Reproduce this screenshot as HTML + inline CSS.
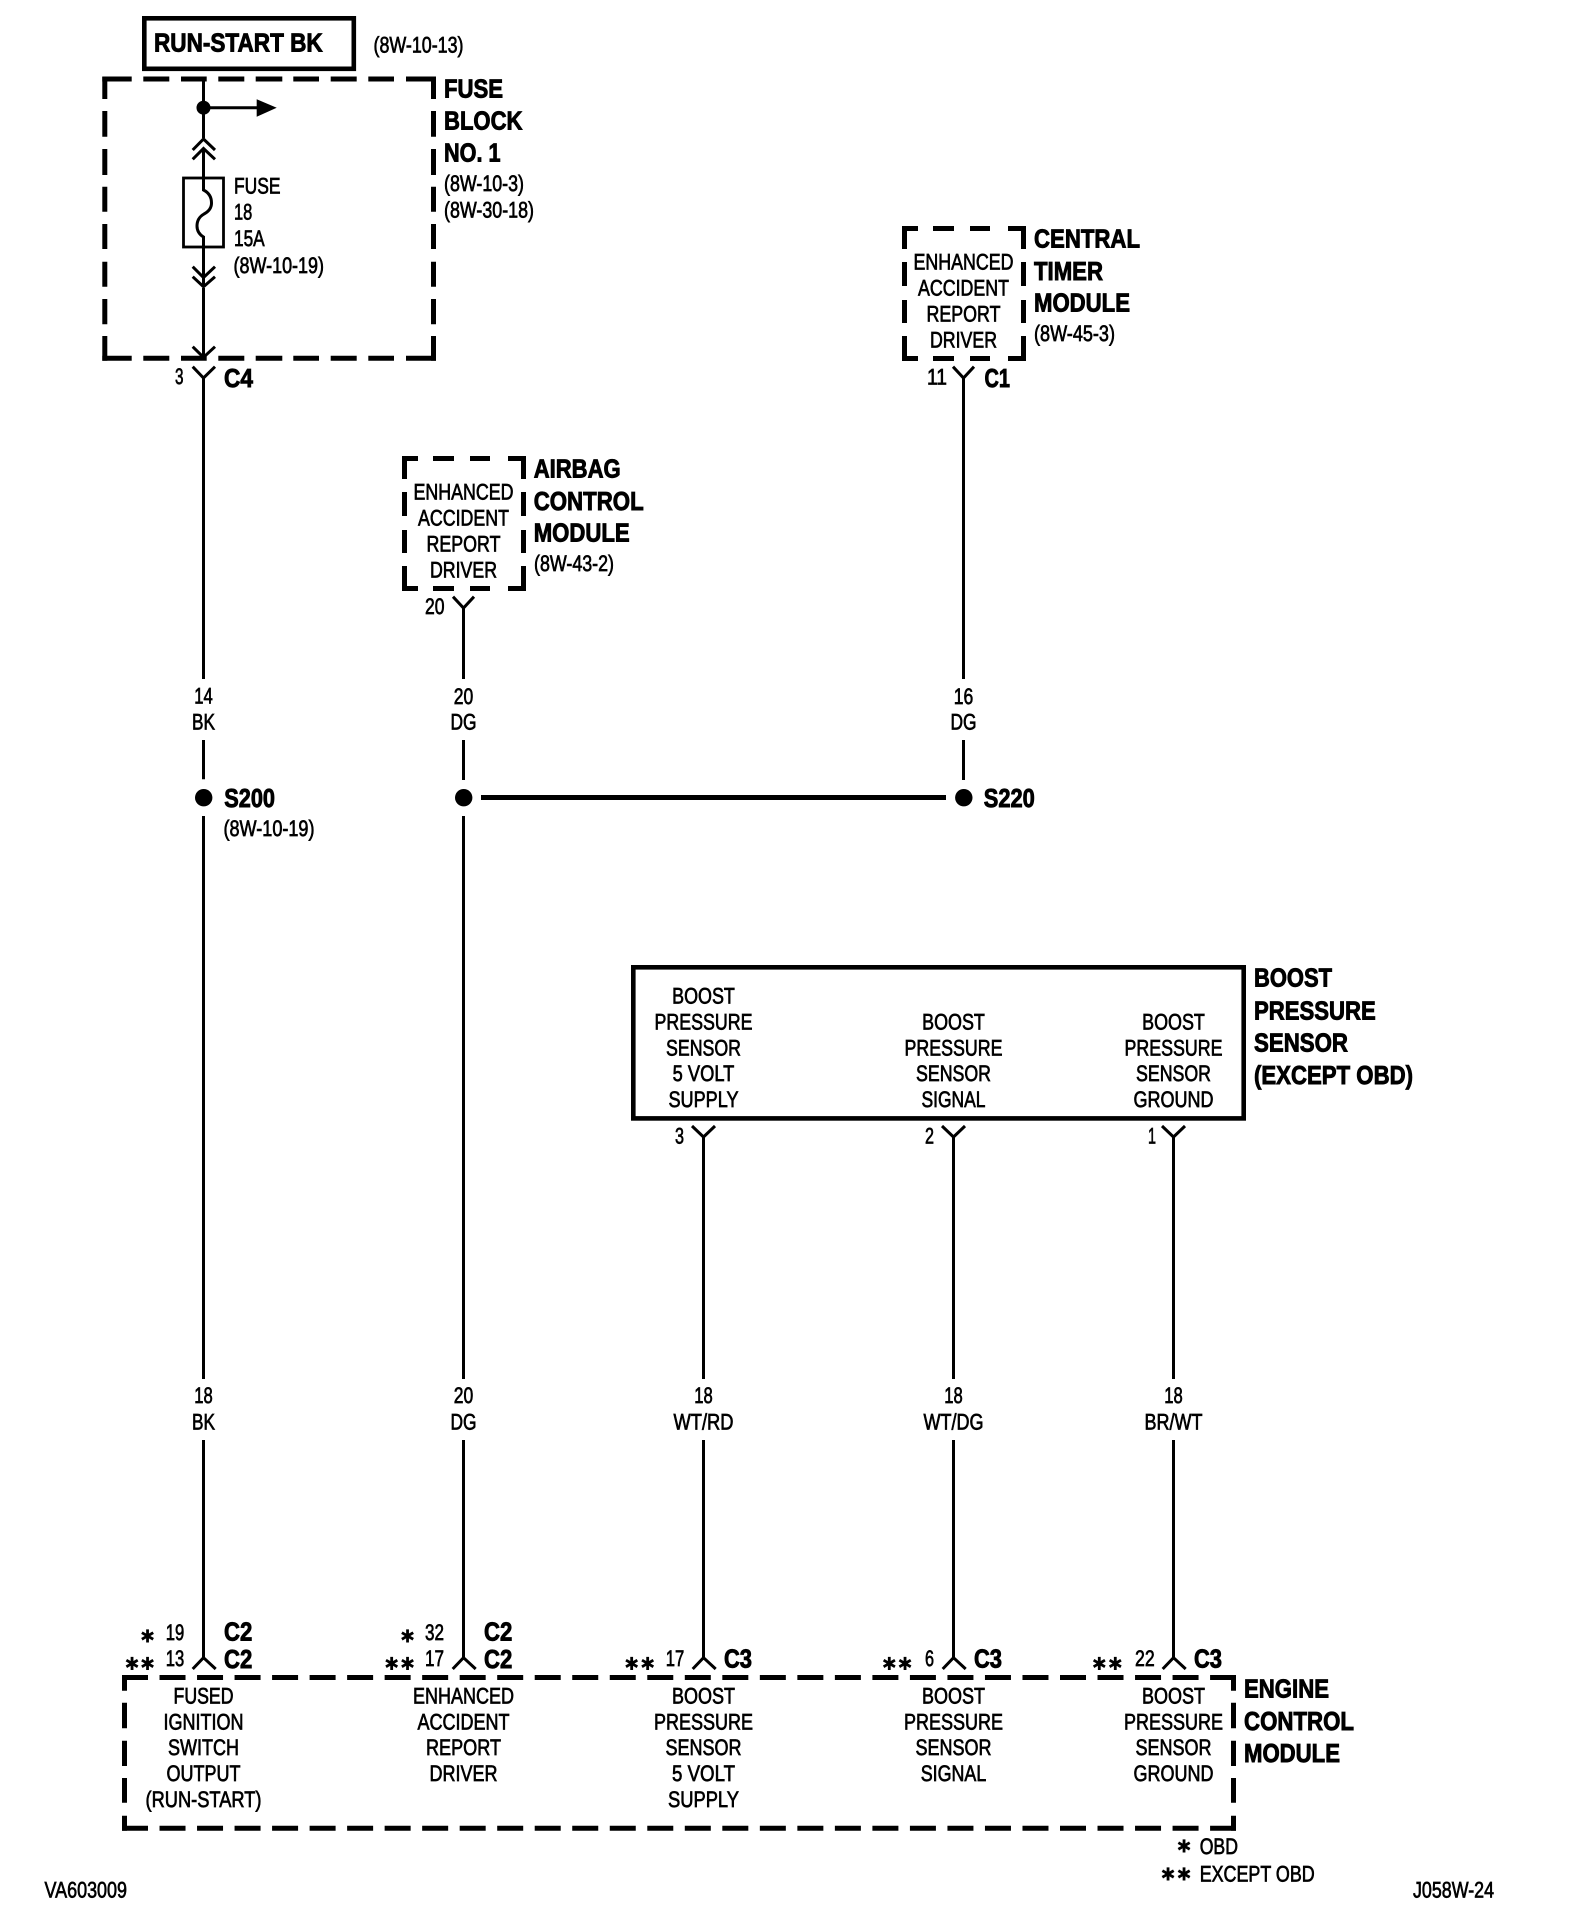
<!DOCTYPE html>
<html><head><meta charset="utf-8"><title>Wiring diagram</title>
<style>
html,body{margin:0;padding:0;background:#fff}
svg{display:block}
text{font-family:"Liberation Sans",sans-serif;fill:#000;text-rendering:geometricPrecision}
.s{font-size:22.5px;stroke:#000;stroke-width:.7}
.b{font-size:26px;font-weight:bold;stroke:#000;stroke-width:.9}
.m{text-anchor:middle}
.a{font-family:"DejaVu Sans",sans-serif;font-size:18px;text-anchor:middle}
.w{fill:none;stroke:#000;stroke-width:3}
.h{fill:none;stroke:#000;stroke-width:5}
</style></head><body>
<svg width="1584" height="1928" viewBox="0 0 1584 1928" xmlns="http://www.w3.org/2000/svg">
<rect width="1584" height="1928" fill="#fff"/>

<!-- Run-start box -->
<rect x="144.3" y="18.3" width="209.5" height="50.5" fill="none" stroke="#000" stroke-width="4.6"/>
<text class="b" x="154" y="51.3" textLength="168.7" lengthAdjust="spacingAndGlyphs">RUN-START BK</text>
<text class="s" x="373.5" y="52.5" textLength="90" lengthAdjust="spacingAndGlyphs">(8W-10-13)</text>

<!-- Fuse block dashed -->
<path class="h" d="M102.3 79H131.7M143.3 79H169.3M181 79H206.7M218.3 79H244.3M255.7 79H282.3M293.3 79H319M330.7 79H356.7M368.3 79H394M406 79H436"/>
<path class="h" d="M102.3 358.3H131.7M143.3 358.3H169.3M181 358.3H206.7M218.3 358.3H244.3M255.7 358.3H282.3M293.3 358.3H319M330.7 358.3H356.7M368.3 358.3H394M406 358.3H436"/>
<path class="h" d="M104.8 76.7V99M104.8 111V136.7M104.8 149V175M104.8 186.7V211.7M104.8 224V249M104.8 261.7V286.7M104.8 299V324.3M104.8 336V360.7"/>
<path class="h" d="M433.5 76.7V99M433.5 111V136.7M433.5 149V175M433.5 186.7V211.7M433.5 224V249M433.5 261.7V286.7M433.5 299V324.3M433.5 336V360.7"/>
<text class="b" x="444" y="97.3" textLength="59" lengthAdjust="spacingAndGlyphs">FUSE</text>
<text class="b" x="444" y="129.7" textLength="78.5" lengthAdjust="spacingAndGlyphs">BLOCK</text>
<text class="b" x="444" y="161.7" textLength="56.5" lengthAdjust="spacingAndGlyphs">NO. 1</text>
<text class="s" x="444" y="191" textLength="80" lengthAdjust="spacingAndGlyphs">(8W-10-3)</text>
<text class="s" x="444" y="217.3" textLength="90" lengthAdjust="spacingAndGlyphs">(8W-30-18)</text>

<!-- Fuse internals -->
<path class="w" d="M203.5 79V138M203.5 148V190Q211.5 194 211.5 203Q211.5 210 204 214Q197 218 197 226Q197 233 203.5 237V286M203.5 288V357"/>
<circle cx="203.5" cy="107.7" r="7"/>
<path class="w" d="M203.5 107.7H258"/>
<path d="M256.7 99.3L276.7 107.8L256.7 116.7Z"/>
<path class="w" stroke-width="2.5" d="M192.7 150L203.5 139L215 150M192.7 159.3L203.5 148.5L215 159.3"/>
<rect x="183.5" y="178" width="40" height="69" fill="none" stroke="#000" stroke-width="2.8"/>
<path class="w" d="M192.7 266.7L203.5 277.5L215 266.7M192.7 276.7L203.5 286.7L215 276.7"/>
<path class="w" d="M192.7 346.7L203.5 357.3L215 346.7"/>
<text class="s" x="234" y="193.3" textLength="46.5" lengthAdjust="spacingAndGlyphs">FUSE</text>
<text class="s" x="234" y="219.5" textLength="18.3" lengthAdjust="spacingAndGlyphs">18</text>
<text class="s" x="234" y="246" textLength="30.7" lengthAdjust="spacingAndGlyphs">15A</text>
<text class="s" x="233.5" y="273" textLength="90.5" lengthAdjust="spacingAndGlyphs">(8W-10-19)</text>

<!-- C4 -->
<path class="w" d="M192.7 366.7L203.5 378L215 366.7M203.5 378V679M203.5 740V779.3M203.5 816V1379M203.5 1440V1657.7"/>
<text class="s" x="175" y="384" textLength="8.5" lengthAdjust="spacingAndGlyphs">3</text>
<text class="b" x="224" y="387" textLength="29" lengthAdjust="spacingAndGlyphs">C4</text>
<text class="s m" x="203.5" y="703.5" textLength="18.5" lengthAdjust="spacingAndGlyphs">14</text>
<text class="s m" x="203.5" y="729.7" textLength="23" lengthAdjust="spacingAndGlyphs">BK</text>
<circle cx="203.7" cy="797.7" r="8.7"/>
<text class="b" x="224.3" y="807" textLength="50.7" lengthAdjust="spacingAndGlyphs">S200</text>
<text class="s" x="223.5" y="836" textLength="91" lengthAdjust="spacingAndGlyphs">(8W-10-19)</text>

<!-- Airbag module -->
<path class="h" d="M402 458.5H418M433 458.5H454M470 458.5H490M508 458.5H526M402 588.5H418M433 588.5H454M470 588.5H490M508 588.5H526"/>
<path class="h" d="M404.5 456V479M404.5 492V516M404.5 530V553M404.5 566V591M523.5 456V479M523.5 492V516M523.5 530V553M523.5 566V591"/>
<text class="s m" x="463.5" y="499.5" textLength="100" lengthAdjust="spacingAndGlyphs">ENHANCED</text>
<text class="s m" x="463.5" y="525.5" textLength="91" lengthAdjust="spacingAndGlyphs">ACCIDENT</text>
<text class="s m" x="463.5" y="551.5" textLength="74" lengthAdjust="spacingAndGlyphs">REPORT</text>
<text class="s m" x="463.5" y="577.5" textLength="67" lengthAdjust="spacingAndGlyphs">DRIVER</text>
<text class="b" x="533.7" y="477.3" textLength="87" lengthAdjust="spacingAndGlyphs">AIRBAG</text>
<text class="b" x="533.7" y="510" textLength="110" lengthAdjust="spacingAndGlyphs">CONTROL</text>
<text class="b" x="533.7" y="541.7" textLength="96" lengthAdjust="spacingAndGlyphs">MODULE</text>
<text class="s" x="534" y="571" textLength="80" lengthAdjust="spacingAndGlyphs">(8W-43-2)</text>
<path class="w" d="M453 596.7L463.5 608L474 596.7M463.5 608V679M463.5 740V780M463.5 816V1379M463.5 1440V1657.7"/>
<text class="s" x="425" y="614" textLength="19.5" lengthAdjust="spacingAndGlyphs">20</text>
<text class="s m" x="463.5" y="704" textLength="19.5" lengthAdjust="spacingAndGlyphs">20</text>
<text class="s m" x="463.5" y="729.7" textLength="26" lengthAdjust="spacingAndGlyphs">DG</text>
<circle cx="463.7" cy="797.7" r="8.7"/>
<path class="h" d="M481 797.5H946"/>

<!-- Central timer -->
<path class="h" d="M902 228.5H918M933 228.5H954M970 228.5H990M1008 228.5H1026M902 358.5H918M933 358.5H954M970 358.5H990M1008 358.5H1026"/>
<path class="h" d="M904.5 226V249M904.5 262V286M904.5 300V323M904.5 336V361M1023.5 226V249M1023.5 262V286M1023.5 300V323M1023.5 336V361"/>
<text class="s m" x="963.5" y="269.5" textLength="100" lengthAdjust="spacingAndGlyphs">ENHANCED</text>
<text class="s m" x="963.5" y="295.5" textLength="91" lengthAdjust="spacingAndGlyphs">ACCIDENT</text>
<text class="s m" x="963.5" y="321.5" textLength="74" lengthAdjust="spacingAndGlyphs">REPORT</text>
<text class="s m" x="963.5" y="347.5" textLength="67" lengthAdjust="spacingAndGlyphs">DRIVER</text>
<text class="b" x="1034" y="247.3" textLength="106" lengthAdjust="spacingAndGlyphs">CENTRAL</text>
<text class="b" x="1034" y="280" textLength="69" lengthAdjust="spacingAndGlyphs">TIMER</text>
<text class="b" x="1034" y="311.7" textLength="96" lengthAdjust="spacingAndGlyphs">MODULE</text>
<text class="s" x="1034" y="341" textLength="81" lengthAdjust="spacingAndGlyphs">(8W-45-3)</text>
<path class="w" d="M953 366.7L963.5 378L974 366.7M963.5 378V679M963.5 740V780"/>
<text class="s" x="927" y="384.5" textLength="20" lengthAdjust="spacingAndGlyphs">11</text>
<text class="b" x="984.5" y="387" textLength="25.5" lengthAdjust="spacingAndGlyphs">C1</text>
<text class="s m" x="963.5" y="704" textLength="19.5" lengthAdjust="spacingAndGlyphs">16</text>
<text class="s m" x="963.5" y="729.7" textLength="26" lengthAdjust="spacingAndGlyphs">DG</text>
<circle cx="963.8" cy="797.7" r="8.7"/>
<text class="b" x="983.8" y="807" textLength="51" lengthAdjust="spacingAndGlyphs">S220</text>

<!-- Boost sensor -->
<rect x="633.3" y="967.3" width="610.4" height="151.1" fill="none" stroke="#000" stroke-width="4.6"/>
<text class="s m" x="703.5" y="1003.3" textLength="62.7" lengthAdjust="spacingAndGlyphs">BOOST</text>
<text class="s m" x="703.5" y="1029.3" textLength="98" lengthAdjust="spacingAndGlyphs">PRESSURE</text>
<text class="s m" x="703.5" y="1055.3" textLength="75" lengthAdjust="spacingAndGlyphs">SENSOR</text>
<text class="s m" x="703.5" y="1081" textLength="61.7" lengthAdjust="spacingAndGlyphs">5 VOLT</text>
<text class="s m" x="703.5" y="1107" textLength="70" lengthAdjust="spacingAndGlyphs">SUPPLY</text>
<text class="s m" x="953.5" y="1029.3" textLength="62.7" lengthAdjust="spacingAndGlyphs">BOOST</text>
<text class="s m" x="953.5" y="1055.3" textLength="98" lengthAdjust="spacingAndGlyphs">PRESSURE</text>
<text class="s m" x="953.5" y="1081" textLength="75" lengthAdjust="spacingAndGlyphs">SENSOR</text>
<text class="s m" x="953.5" y="1107" textLength="64" lengthAdjust="spacingAndGlyphs">SIGNAL</text>
<text class="s m" x="1173.5" y="1029.3" textLength="62.7" lengthAdjust="spacingAndGlyphs">BOOST</text>
<text class="s m" x="1173.5" y="1055.3" textLength="98" lengthAdjust="spacingAndGlyphs">PRESSURE</text>
<text class="s m" x="1173.5" y="1081" textLength="75" lengthAdjust="spacingAndGlyphs">SENSOR</text>
<text class="s m" x="1173.5" y="1107" textLength="80" lengthAdjust="spacingAndGlyphs">GROUND</text>
<text class="b" x="1254" y="986.7" textLength="78" lengthAdjust="spacingAndGlyphs">BOOST</text>
<text class="b" x="1254" y="1019.5" textLength="121.7" lengthAdjust="spacingAndGlyphs">PRESSURE</text>
<text class="b" x="1254" y="1051.3" textLength="94" lengthAdjust="spacingAndGlyphs">SENSOR</text>
<text class="b" x="1254" y="1084" textLength="159" lengthAdjust="spacingAndGlyphs">(EXCEPT OBD)</text>
<path class="w" d="M692 1126L703.5 1137L715 1126M703.5 1137V1379M703.5 1440V1657.7"/>
<path class="w" d="M942 1126L953.5 1137L965 1126M953.5 1137V1379M953.5 1440V1657.7"/>
<path class="w" d="M1162 1126L1173.5 1137L1185 1126M1173.5 1137V1379M1173.5 1440V1657.7"/>
<text class="s" x="675" y="1143.5" textLength="9" lengthAdjust="spacingAndGlyphs">3</text>
<text class="s" x="925" y="1143.5" textLength="9" lengthAdjust="spacingAndGlyphs">2</text>
<text class="s" x="1148" y="1143.5" textLength="8" lengthAdjust="spacingAndGlyphs">1</text>

<!-- Mid wire labels -->
<text class="s m" x="203.5" y="1403.2" textLength="18.5" lengthAdjust="spacingAndGlyphs">18</text>
<text class="s m" x="203.5" y="1429.5" textLength="23" lengthAdjust="spacingAndGlyphs">BK</text>
<text class="s m" x="463.5" y="1403.2" textLength="19.5" lengthAdjust="spacingAndGlyphs">20</text>
<text class="s m" x="463.5" y="1429.5" textLength="26" lengthAdjust="spacingAndGlyphs">DG</text>
<text class="s m" x="703.5" y="1403.2" textLength="18.5" lengthAdjust="spacingAndGlyphs">18</text>
<text class="s m" x="703.5" y="1429.5" textLength="60" lengthAdjust="spacingAndGlyphs">WT/RD</text>
<text class="s m" x="953.5" y="1403.2" textLength="18.5" lengthAdjust="spacingAndGlyphs">18</text>
<text class="s m" x="953.5" y="1429.5" textLength="60" lengthAdjust="spacingAndGlyphs">WT/DG</text>
<text class="s m" x="1173.5" y="1403.2" textLength="18.5" lengthAdjust="spacingAndGlyphs">18</text>
<text class="s m" x="1173.5" y="1429.5" textLength="58" lengthAdjust="spacingAndGlyphs">BR/WT</text>

<!-- Bottom connectors -->
<path class="w" d="M192.7 1669L203.5 1657.7L215.7 1669M452.7 1669L463.5 1657.7L475.7 1669M692.7 1669L703.5 1657.7L715.7 1669M942.7 1669L953.5 1657.7L965.7 1669M1162.7 1669L1173.5 1657.7L1185.7 1669"/>
<text class="a" x="147.5" y="1642.5">✱</text>
<text class="a" x="132" y="1670">✱</text><text class="a" x="147.5" y="1670">✱</text>
<text class="s" x="165.7" y="1640" textLength="18.5" lengthAdjust="spacingAndGlyphs">19</text>
<text class="s" x="165.7" y="1666" textLength="18.5" lengthAdjust="spacingAndGlyphs">13</text>
<text class="b" x="224" y="1640.7" textLength="28.3" lengthAdjust="spacingAndGlyphs">C2</text>
<text class="b" x="224" y="1668" textLength="28.3" lengthAdjust="spacingAndGlyphs">C2</text>
<text class="a" x="407.5" y="1642.5">✱</text>
<text class="a" x="391.7" y="1670">✱</text><text class="a" x="407.5" y="1670">✱</text>
<text class="s" x="425" y="1640" textLength="19" lengthAdjust="spacingAndGlyphs">32</text>
<text class="s" x="425" y="1666" textLength="19" lengthAdjust="spacingAndGlyphs">17</text>
<text class="b" x="484" y="1640.7" textLength="28.3" lengthAdjust="spacingAndGlyphs">C2</text>
<text class="b" x="484" y="1668" textLength="28.3" lengthAdjust="spacingAndGlyphs">C2</text>
<text class="a" x="631.7" y="1670">✱</text><text class="a" x="647.7" y="1670">✱</text>
<text class="s" x="665.7" y="1666" textLength="18.5" lengthAdjust="spacingAndGlyphs">17</text>
<text class="b" x="724" y="1667.5" textLength="28" lengthAdjust="spacingAndGlyphs">C3</text>
<text class="a" x="889.3" y="1670">✱</text><text class="a" x="905" y="1670">✱</text>
<text class="s" x="925" y="1666" textLength="9" lengthAdjust="spacingAndGlyphs">6</text>
<text class="b" x="974" y="1667.5" textLength="28" lengthAdjust="spacingAndGlyphs">C3</text>
<text class="a" x="1099.3" y="1670">✱</text><text class="a" x="1115.3" y="1670">✱</text>
<text class="s" x="1135" y="1666" textLength="19.7" lengthAdjust="spacingAndGlyphs">22</text>
<text class="b" x="1194" y="1667.5" textLength="28" lengthAdjust="spacingAndGlyphs">C3</text>

<!-- ECM dashed -->
<line class="h" x1="122" y1="1677.5" x2="1236" y2="1677.5" stroke-dasharray="26 11.52"/>
<line class="h" x1="122" y1="1828.3" x2="1236" y2="1828.3" stroke-dasharray="26 11.52"/>
<path class="h" d="M124.5 1675V1690.7M124.5 1702.7V1728.3M124.5 1740.7V1766M124.5 1778V1802.7M124.5 1815.7V1830.7"/>
<path class="h" d="M1233.5 1675V1690.7M1233.5 1702.7V1728.3M1233.5 1740.7V1766M1233.5 1778V1802.7M1233.5 1815.7V1830.7"/>
<text class="s m" x="203.5" y="1703.3" textLength="60" lengthAdjust="spacingAndGlyphs">FUSED</text>
<text class="s m" x="203.5" y="1729.3" textLength="80" lengthAdjust="spacingAndGlyphs">IGNITION</text>
<text class="s m" x="203.5" y="1755" textLength="71" lengthAdjust="spacingAndGlyphs">SWITCH</text>
<text class="s m" x="203.5" y="1781" textLength="74" lengthAdjust="spacingAndGlyphs">OUTPUT</text>
<text class="s m" x="203.5" y="1807" textLength="116" lengthAdjust="spacingAndGlyphs">(RUN-START)</text>
<text class="s m" x="463.5" y="1703.3" textLength="101" lengthAdjust="spacingAndGlyphs">ENHANCED</text>
<text class="s m" x="463.5" y="1729.3" textLength="92" lengthAdjust="spacingAndGlyphs">ACCIDENT</text>
<text class="s m" x="463.5" y="1755" textLength="75" lengthAdjust="spacingAndGlyphs">REPORT</text>
<text class="s m" x="463.5" y="1781" textLength="68" lengthAdjust="spacingAndGlyphs">DRIVER</text>
<text class="s m" x="703.5" y="1703.3" textLength="63" lengthAdjust="spacingAndGlyphs">BOOST</text>
<text class="s m" x="703.5" y="1729.3" textLength="99" lengthAdjust="spacingAndGlyphs">PRESSURE</text>
<text class="s m" x="703.5" y="1755" textLength="76" lengthAdjust="spacingAndGlyphs">SENSOR</text>
<text class="s m" x="703.5" y="1781" textLength="63" lengthAdjust="spacingAndGlyphs">5 VOLT</text>
<text class="s m" x="703.5" y="1807" textLength="71" lengthAdjust="spacingAndGlyphs">SUPPLY</text>
<text class="s m" x="953.5" y="1703.3" textLength="63" lengthAdjust="spacingAndGlyphs">BOOST</text>
<text class="s m" x="953.5" y="1729.3" textLength="99" lengthAdjust="spacingAndGlyphs">PRESSURE</text>
<text class="s m" x="953.5" y="1755" textLength="76" lengthAdjust="spacingAndGlyphs">SENSOR</text>
<text class="s m" x="953.5" y="1781" textLength="65.5" lengthAdjust="spacingAndGlyphs">SIGNAL</text>
<text class="s m" x="1173.5" y="1703.3" textLength="63" lengthAdjust="spacingAndGlyphs">BOOST</text>
<text class="s m" x="1173.5" y="1729.3" textLength="99" lengthAdjust="spacingAndGlyphs">PRESSURE</text>
<text class="s m" x="1173.5" y="1755" textLength="76" lengthAdjust="spacingAndGlyphs">SENSOR</text>
<text class="s m" x="1173.5" y="1781" textLength="80" lengthAdjust="spacingAndGlyphs">GROUND</text>
<text class="b" x="1244" y="1697.3" textLength="85" lengthAdjust="spacingAndGlyphs">ENGINE</text>
<text class="b" x="1244" y="1730" textLength="110" lengthAdjust="spacingAndGlyphs">CONTROL</text>
<text class="b" x="1244" y="1762" textLength="96" lengthAdjust="spacingAndGlyphs">MODULE</text>

<!-- Legend -->
<text class="a" x="1184" y="1852.5">✱</text>
<text class="s" x="1199.7" y="1854" textLength="38.3" lengthAdjust="spacingAndGlyphs">OBD</text>
<text class="a" x="1168" y="1880.5">✱</text><text class="a" x="1184" y="1880.5">✱</text>
<text class="s" x="1199.7" y="1881.3" textLength="115" lengthAdjust="spacingAndGlyphs">EXCEPT OBD</text>
<text class="s" x="44.5" y="1897.5" textLength="82.5" lengthAdjust="spacingAndGlyphs">VA603009</text>
<text class="s" x="1413" y="1897.5" textLength="81" lengthAdjust="spacingAndGlyphs">J058W-24</text>
</svg>
</body></html>
